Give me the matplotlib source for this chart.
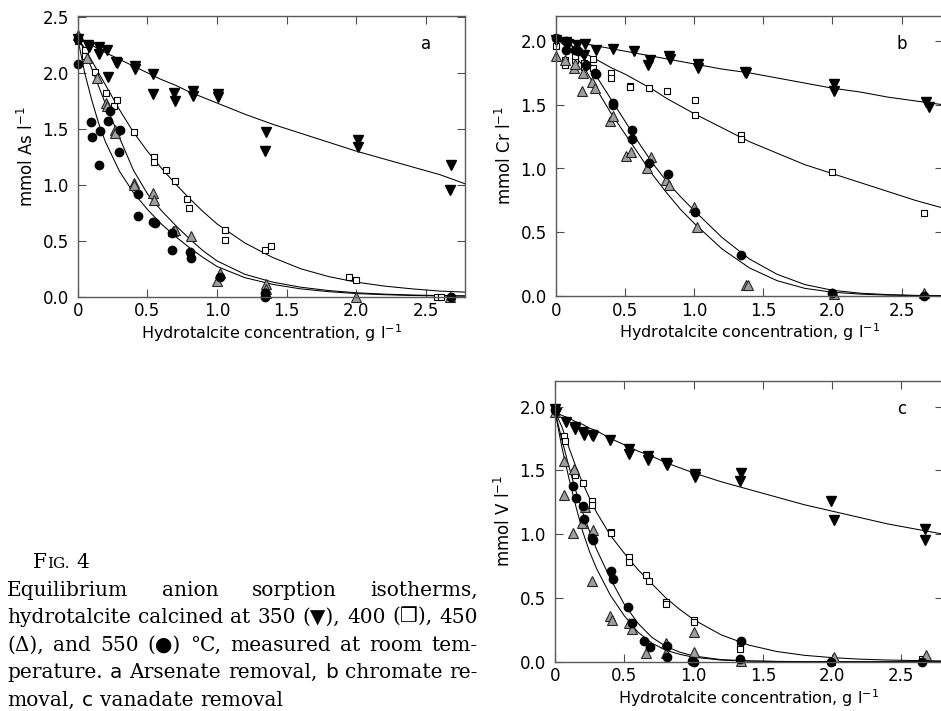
import numpy as np
import matplotlib
matplotlib.use('Agg')
import matplotlib.pyplot as plt

# ---- panel a : arsenate ----
a350_x = [0, 0.077, 0.08, 0.153, 0.153, 0.21, 0.22, 0.275, 0.28, 0.41, 0.41, 0.54, 0.54, 0.69, 0.695, 0.825, 0.83, 1.01, 1.01, 1.35, 1.345, 2.01, 2.01, 2.68, 2.67]
a350_y = [2.30, 2.25, 2.23, 2.23, 2.17, 2.20, 1.96, 2.10, 2.09, 2.06, 2.03, 1.99, 1.81, 1.82, 1.75, 1.84, 1.79, 1.81, 1.78, 1.47, 1.30, 1.40, 1.34, 1.18, 0.95]
a400_x = [0, 0.053, 0.053, 0.124, 0.203, 0.263, 0.28, 0.404, 0.548, 0.548, 0.632, 0.696, 0.787, 0.80, 1.057, 1.057, 1.345, 1.385, 1.947, 1.995, 2.58, 2.61, 2.68]
a400_y = [2.28, 2.20, 2.15, 2.01, 1.82, 1.70, 1.76, 1.47, 1.25, 1.20, 1.13, 1.03, 0.87, 0.79, 0.60, 0.51, 0.42, 0.45, 0.18, 0.15, 0.0, 0.0, 0.0]
a450_x = [0, 0.07, 0.136, 0.203, 0.208, 0.27, 0.27, 0.407, 0.407, 0.54, 0.547, 0.684, 0.697, 0.813, 1.02, 1.0, 1.35, 1.35, 1.35, 2.0, 2.67]
a450_y = [2.34, 2.13, 1.95, 1.73, 1.70, 1.49, 1.46, 1.02, 1.00, 0.93, 0.86, 0.59, 0.60, 0.54, 0.21, 0.14, 0.11, 0.07, 0.03, 0.0, 0.0]
a550_x = [0, 0, 0.093, 0.10, 0.16, 0.155, 0.22, 0.234, 0.304, 0.297, 0.43, 0.435, 0.543, 0.555, 0.68, 0.68, 0.806, 0.81, 1.02, 1.345, 1.345, 2.68]
a550_y = [2.30, 2.08, 1.56, 1.43, 1.48, 1.18, 1.57, 1.66, 1.49, 1.29, 0.92, 0.72, 0.67, 0.66, 0.57, 0.42, 0.40, 0.35, 0.18, 0.03, 0.0, 0.0]

fit_a_x = [0, 0.05, 0.1, 0.15, 0.2, 0.3, 0.4, 0.5, 0.6, 0.7, 0.8, 0.9, 1.0, 1.2, 1.4, 1.6, 1.8, 2.0, 2.2, 2.4, 2.6, 2.8]
fit_a350 = [2.31, 2.28, 2.25, 2.21, 2.18, 2.12, 2.06, 2.00, 1.94, 1.89, 1.83, 1.78, 1.73, 1.63, 1.54, 1.46, 1.38, 1.30, 1.23, 1.16, 1.09, 1.00]
fit_a400 = [2.31, 2.22, 2.11, 2.00, 1.89, 1.67, 1.47, 1.30, 1.15, 1.01, 0.88, 0.76, 0.65, 0.48, 0.35, 0.25, 0.18, 0.13, 0.095, 0.07, 0.05, 0.04]
fit_a450 = [2.31, 2.20, 2.04, 1.88, 1.72, 1.42, 1.13, 0.92, 0.77, 0.64, 0.52, 0.41, 0.32, 0.20, 0.13, 0.085, 0.055, 0.035, 0.023, 0.015, 0.01, 0.007]
fit_a550 = [2.31, 2.00, 1.76, 1.55, 1.38, 1.12, 0.93, 0.78, 0.65, 0.54, 0.44, 0.35, 0.27, 0.17, 0.11, 0.07, 0.045, 0.028, 0.018, 0.011, 0.007, 0.005]

# ---- panel b : chromate ----
b350_x = [0, 0.072, 0.085, 0.15, 0.21, 0.20, 0.287, 0.414, 0.564, 0.68, 0.667, 0.82, 0.825, 1.03, 1.025, 1.37, 1.375, 2.01, 2.01, 2.68, 2.70]
b350_y = [2.01, 1.99, 1.98, 1.97, 1.98, 1.89, 1.93, 1.94, 1.92, 1.85, 1.81, 1.88, 1.86, 1.82, 1.79, 1.76, 1.75, 1.66, 1.61, 1.52, 1.48]
b400_x = [0, 0.063, 0.068, 0.137, 0.14, 0.2, 0.2, 0.27, 0.27, 0.40, 0.40, 0.535, 0.535, 0.672, 0.805, 1.005, 1.005, 1.335, 1.335, 2.0, 2.66]
b400_y = [1.96, 1.81, 1.85, 1.85, 1.88, 1.83, 1.80, 1.86, 1.79, 1.75, 1.71, 1.65, 1.64, 1.63, 1.61, 1.54, 1.42, 1.26, 1.23, 0.975, 0.65]
b450_x = [0, 0.065, 0.133, 0.14, 0.193, 0.19, 0.258, 0.28, 0.39, 0.414, 0.51, 0.54, 0.655, 0.69, 0.795, 0.817, 0.998, 1.017, 1.378, 1.39, 2.01, 2.66]
b450_y = [1.88, 1.85, 1.79, 1.82, 1.75, 1.61, 1.68, 1.63, 1.37, 1.41, 1.10, 1.13, 1.00, 1.09, 0.91, 0.87, 0.70, 0.54, 0.086, 0.086, 0.016, 0.026]
b550_x = [0, 0.072, 0.072, 0.137, 0.157, 0.217, 0.282, 0.29, 0.41, 0.41, 0.547, 0.547, 0.672, 0.807, 1.005, 1.335, 2.0, 2.66]
b550_y = [2.02, 2.00, 1.93, 1.93, 1.92, 1.81, 1.75, 1.74, 1.51, 1.50, 1.30, 1.23, 1.04, 0.96, 0.66, 0.32, 0.026, 0.0]

fit_b_x = [0, 0.1, 0.2, 0.3, 0.4, 0.5, 0.6, 0.7, 0.8, 0.9, 1.0, 1.2, 1.4, 1.6, 1.8, 2.0, 2.2, 2.4, 2.6, 2.8]
fit_b350 = [2.02, 2.00, 1.98, 1.96, 1.94, 1.92, 1.90, 1.88, 1.86, 1.84, 1.82, 1.78, 1.75, 1.71, 1.67, 1.63, 1.60, 1.56, 1.53, 1.50]
fit_b400 = [2.02, 1.97, 1.91, 1.85, 1.79, 1.74, 1.68, 1.62, 1.55, 1.49, 1.43, 1.32, 1.21, 1.12, 1.03, 0.96, 0.89, 0.82, 0.75, 0.69]
fit_b450 = [2.02, 1.93, 1.80, 1.61, 1.43, 1.27, 1.11, 0.95, 0.81, 0.68, 0.57, 0.37, 0.22, 0.12, 0.06, 0.03, 0.015, 0.007, 0.003, 0.002]
fit_b550 = [2.02, 1.98, 1.86, 1.71, 1.54, 1.37, 1.20, 1.04, 0.90, 0.78, 0.67, 0.46, 0.29, 0.17, 0.09, 0.045, 0.022, 0.011, 0.005, 0.003]

# ---- panel c : vanadate ----
c350_x = [0, 0.01, 0.08, 0.144, 0.144, 0.2, 0.21, 0.27, 0.277, 0.40, 0.534, 0.534, 0.67, 0.67, 0.80, 0.805, 1.01, 1.01, 1.343, 1.336, 1.99, 2.01, 2.667, 2.67]
c350_y = [1.98, 1.95, 1.88, 1.84, 1.82, 1.80, 1.78, 1.78, 1.77, 1.74, 1.67, 1.63, 1.61, 1.58, 1.56, 1.54, 1.47, 1.45, 1.48, 1.42, 1.26, 1.11, 1.04, 0.95]
c400_x = [0, 0.067, 0.072, 0.137, 0.144, 0.205, 0.265, 0.265, 0.404, 0.404, 0.534, 0.534, 0.66, 0.68, 0.80, 0.80, 1.0, 1.0, 1.336, 1.336, 2.0, 2.65, 2.65]
c400_y = [1.98, 1.77, 1.73, 1.49, 1.46, 1.40, 1.26, 1.23, 1.02, 1.01, 0.82, 0.78, 0.68, 0.63, 0.47, 0.455, 0.33, 0.31, 0.12, 0.10, 0.0, 0.02, 0.0]
c450_x = [0, 0.067, 0.065, 0.128, 0.135, 0.193, 0.217, 0.265, 0.272, 0.40, 0.414, 0.534, 0.553, 0.66, 0.80, 0.80, 1.0, 1.0, 1.34, 2.01, 2.68]
c450_y = [1.96, 1.57, 1.31, 1.01, 1.51, 1.09, 1.21, 0.63, 1.03, 0.36, 0.33, 0.30, 0.26, 0.066, 0.145, 0.066, 0.23, 0.074, 0.008, 0.04, 0.055]
c550_x = [0, 0.132, 0.149, 0.2, 0.21, 0.27, 0.275, 0.404, 0.42, 0.53, 0.553, 0.645, 0.686, 0.806, 0.81, 0.99, 1.0, 1.336, 1.343, 1.99, 2.65]
c550_y = [1.97, 1.38, 1.28, 1.22, 1.12, 0.97, 0.95, 0.71, 0.65, 0.43, 0.30, 0.166, 0.113, 0.034, 0.126, 0.008, 0.0, 0.02, 0.166, 0.0, 0.0]

fit_c_x = [0, 0.05, 0.1, 0.15, 0.2, 0.25, 0.3, 0.4, 0.5, 0.6, 0.7, 0.8, 0.9, 1.0, 1.2, 1.4, 1.6, 1.8, 2.0, 2.2, 2.4, 2.6, 2.8]
fit_c350 = [1.96, 1.93, 1.91, 1.88, 1.86, 1.83, 1.81, 1.75, 1.70, 1.65, 1.61, 1.56, 1.52, 1.48, 1.41, 1.35, 1.29, 1.23, 1.18, 1.13, 1.08, 1.04, 1.00]
fit_c400 = [1.96, 1.84, 1.68, 1.53, 1.40, 1.28, 1.17, 0.99, 0.85, 0.72, 0.61, 0.50, 0.41, 0.33, 0.21, 0.13, 0.08, 0.05, 0.032, 0.02, 0.013, 0.009, 0.006]
fit_c450 = [1.96, 1.68, 1.44, 1.22, 1.02, 0.86, 0.73, 0.52, 0.36, 0.23, 0.145, 0.09, 0.058, 0.035, 0.013, 0.005, 0.002, 0.001, 0.0, 0.0, 0.0, 0.0, 0.0]
fit_c550 = [1.96, 1.74, 1.53, 1.34, 1.17, 1.02, 0.88, 0.65, 0.45, 0.30, 0.19, 0.12, 0.075, 0.045, 0.016, 0.006, 0.002, 0.001, 0.0, 0.0, 0.0, 0.0, 0.0]

xticks = [0, 0.5, 1.0, 1.5, 2.0, 2.5]
xticklabels = ['0', '0.5', '1.0', '1.5', '2.0', '2.5']
xlabel = 'Hydrotalcite concentration, g l$^{-1}$'

W, H = 941, 711
fig = plt.figure(figsize=(W / 100, H / 100), dpi=100)
plt.rcParams['font.family'] = ['DejaVu Sans']
plt.rcParams['mathtext.default'] = 'regular'


def panel(left, top, right, bottom, xmax, ymax, yticks, ylabel, letter, pts, fits):
    ax = fig.add_axes([left / W, 1 - bottom / H, (right - left) / W, (bottom - top) / H])
    fx, f350, f400, f450, f550 = fits
    for fy in (f350, f400, f450, f550):
        ax.plot(fx, fy, color='k', lw=0.75)
    (x350, y350), (x400, y400), (x450, y450), (x550, y550) = pts
    ax.plot(x400, y400, 's', ms=4.2, mfc='white', mec='k', mew=0.8, clip_on=False)
    ax.plot(x450, y450, '^', ms=6.5, mfc='0.62', mec='0.15', mew=0.8, clip_on=False)
    ax.plot(x350, y350, 'v', ms=7, mfc='k', mec='k', clip_on=False)
    ax.plot(x550, y550, 'o', ms=6, mfc='k', mec='k', clip_on=False)
    ax.set_xlim(0, xmax)
    ax.set_ylim(0, ymax)
    ax.set_xticks(xticks)
    ax.set_xticklabels(xticklabels)
    ax.set_yticks(yticks)
    ax.set_yticklabels(['%.1f' % v for v in yticks])
    ax.tick_params(direction='in', length=6, width=0.8, color='0.3', labelsize=12,
                   top=True, right=True)
    ax.tick_params(axis='y', pad=6.5)
    ax.tick_params(axis='x', pad=4)
    for s in ax.spines.values():
        s.set_color('0.35')
        s.set_linewidth(1.0)
    ax.set_xlabel(xlabel, fontsize=11.5, labelpad=1.5)
    ax.set_ylabel(ylabel, fontsize=12, labelpad=4)
    ax.text(2.5, ymax * 0.9, letter, fontsize=12, ha='center', va='center')
    return ax


panel(77.7, 15.7, 465, 296.7, 2.78, 2.51, [0, 0.5, 1.0, 1.5, 2.0, 2.5], 'mmol As l$^{-1}$', 'a',
      [(a350_x, a350_y), (a400_x, a400_y), (a450_x, a450_y), (a550_x, a550_y)],
      (fit_a_x, fit_a350, fit_a400, fit_a450, fit_a550))
panel(556, 15.5, 943, 296, 2.8, 2.2, [0, 0.5, 1.0, 1.5, 2.0], 'mmol Cr l$^{-1}$', 'b',
      [(b350_x, b350_y), (b400_x, b400_y), (b450_x, b450_y), (b550_x, b550_y)],
      (fit_b_x, fit_b350, fit_b400, fit_b450, fit_b550))
panel(555, 381, 943, 661.7, 2.8, 2.2, [0, 0.5, 1.0, 1.5, 2.0], 'mmol V l$^{-1}$', 'c',
      [(c350_x, c350_y), (c400_x, c400_y), (c450_x, c450_y), (c550_x, c550_y)],
      (fit_c_x, fit_c350, fit_c400, fit_c450, fit_c550))

# ---- caption (justified block) ----
serif = ['DejaVu Serif', 'DejaVu Sans']
renderer = fig.canvas.get_renderer()
csize = 14.5


def put(x, y, s, size=csize, family=serif):
    t = fig.text(x / W, 1 - y / H, s, fontsize=size, family=family, va='baseline', ha='left')
    return t, t.get_window_extent(renderer).width


def line(words, y, x0=7, x1=478, justify=True):
    items = []
    for w in words:
        fam = ['DejaVu Sans'] if w in ('a', 'b', 'c') else serif
        t, wd = put(0, y, w, family=fam)
        items.append((t, wd))
    total = sum(wd for _, wd in items)
    gap = (x1 - x0 - total) / (len(items) - 1) if justify else 7.0
    x = x0
    for t, wd in items:
        t.set_x(x / W)
        x += wd + gap


t, wd = put(33, 568, 'F')
t2, wd2 = put(33 + wd + 0.5, 568, 'IG.', size=11)
put(33 + wd + 0.5 + wd2 + 6, 568, '4')

line(['Equilibrium', 'anion', 'sorption', 'isotherms,'], 596)
line(['hydrotalcite', 'calcined', 'at', '350', '(\u25bc),', '400', '(\u2752),', '450'], 623)
line(['(\u0394),', 'and', '550', '(\u25cf)', '\u00b0C,', 'measured', 'at', 'room', 'tem-'], 651)
line(['perature.', 'a', 'Arsenate', 'removal,', 'b', 'chromate', 're-'], 678)
line(['moval,', 'c', 'vanadate', 'removal'], 706, justify=False)

fig.savefig('out.png', dpi=100)
